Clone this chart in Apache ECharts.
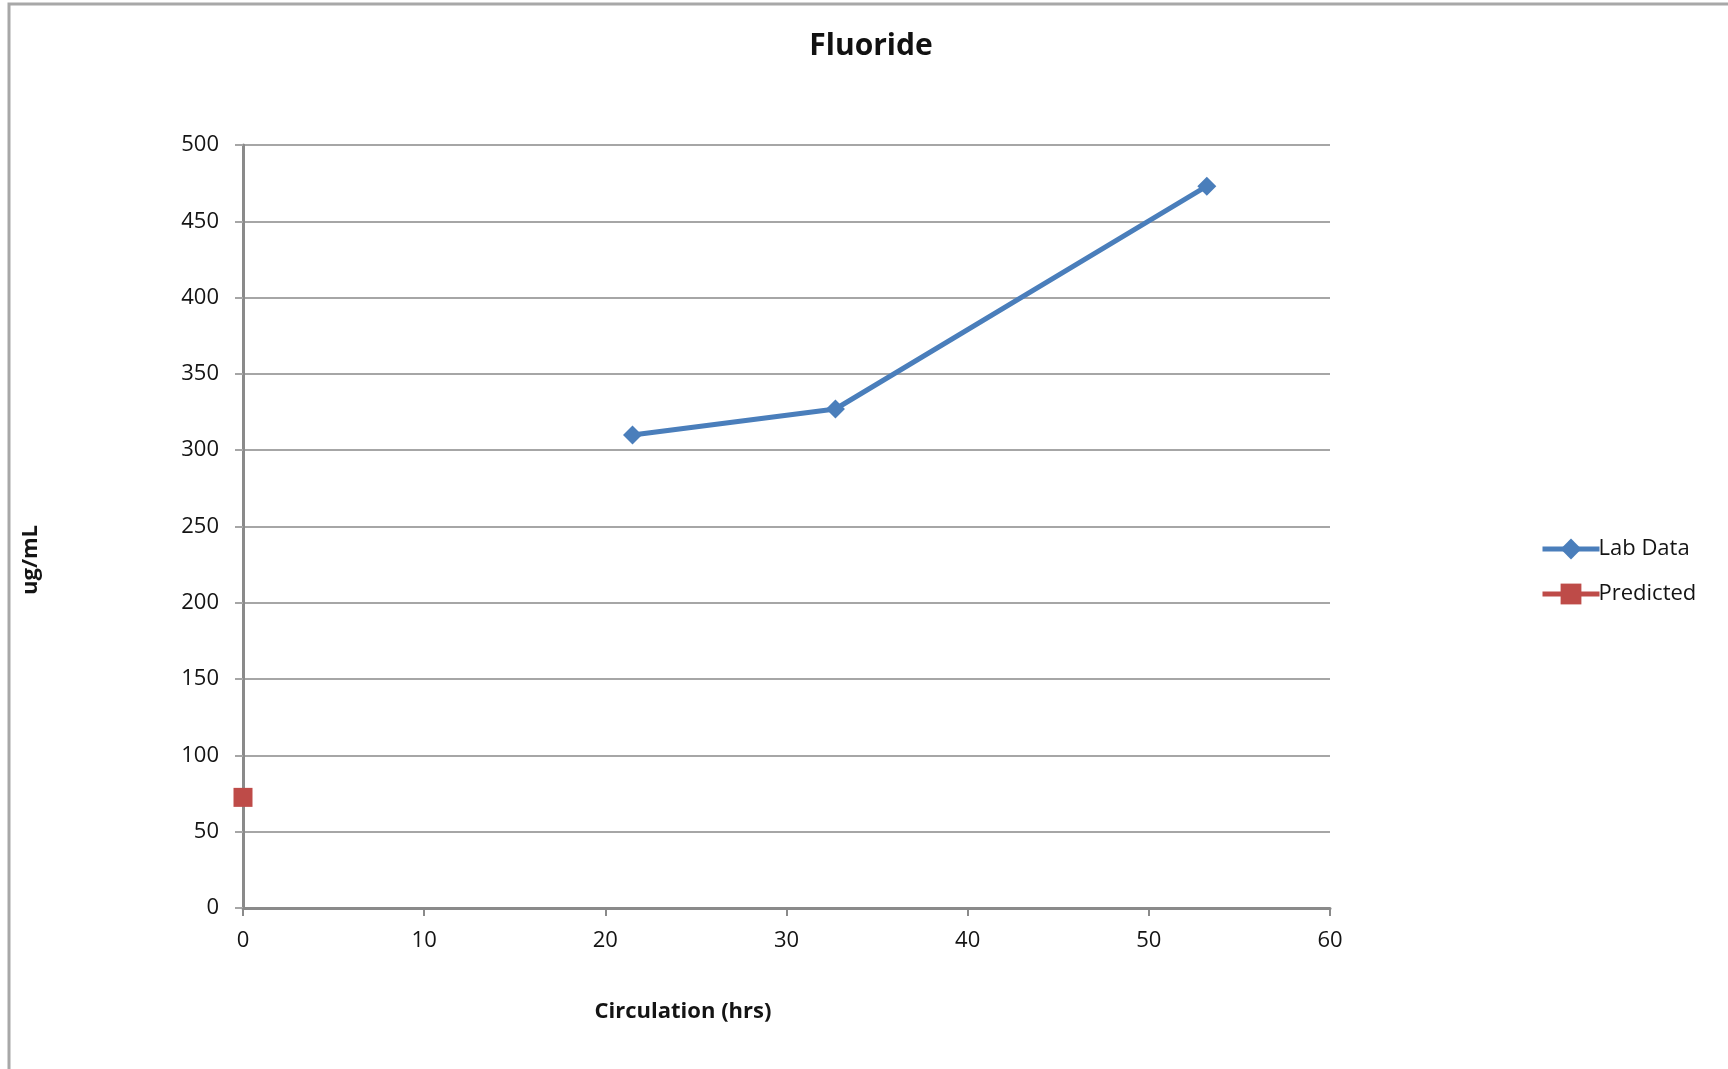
<!DOCTYPE html>
<html>
<head>
<meta charset="utf-8">
<script src="https://cdn.jsdelivr.net/npm/echarts@6/dist/echarts.min.js"></script>
<style>
  html, body { margin: 0; padding: 0; background: #fff; }
  #chart { width: 1728px; height: 1069px; }
</style>
</head>
<body>
<div id="chart"></div>
<script>
// Circulation time (hrs) and fluoride concentration (ug/mL)
const labHours = [21.5, 32.7, 53.2];
const labValues = [310, 327, 473];
const predictedHours = [0];
const predictedValues = [72.5];
const xTicks = [0, 10, 20, 30, 40, 50, 60];
const yTicks = [0, 50, 100, 150, 200, 250, 300, 350, 400, 450, 500];

const FONT = '"Open Sans", "DejaVu Sans", sans-serif';
const TEXT = '#141414';

const chart = echarts.init(document.getElementById('chart'), null, { renderer: 'canvas' });

chart.setOption({
  backgroundColor: '#ffffff',
  animation: false,
  title: {
    text: 'Fluoride',
    left: 866,
    top: 26,
    textAlign: 'center',
    textStyle: { fontFamily: FONT, fontWeight: 'bold', fontSize: 30, color: '#111' }
  },
  graphic: [
    {
      type: 'rect',
      shape: { x: 9, y: 4, width: 1800, height: 1200 },
      style: { fill: 'none', stroke: '#a8a8a8', lineWidth: 3 },
      silent: true
    },
    {
      type: 'text',
      x: 683, y: 1012,
      style: { text: 'Circulation (hrs)', font: 'bold 22px ' + FONT, fill: TEXT, align: 'center', verticalAlign: 'middle' }
    },
    {
      type: 'text',
      x: 31, y: 560,
      rotation: Math.PI / 2,
      style: { text: 'ug/mL', font: 'bold 22px ' + FONT, fill: TEXT, align: 'center', verticalAlign: 'middle' }
    }
  ],
  legend: {
    orient: 'vertical',
    left: 1535,
    top: 533,
    itemWidth: 57,
    itemHeight: 26,
    itemGap: 23,
    textStyle: { fontFamily: FONT, fontSize: 22, color: TEXT, padding: [0, 0, 0, -6] },
    data: [
      { name: 'Lab Data', lineStyle: { width: 5 } },
      { name: 'Predicted', lineStyle: { width: 5 } }
    ]
  },
  grid: { left: 243, top: 145, right: 398, bottom: 161, containLabel: false },
  xAxis: {
    type: 'value',
    min: xTicks[0],
    max: xTicks[xTicks.length - 1],
    interval: 10,
    axisLine: { show: true, onZero: false, lineStyle: { color: '#8a8a8a', width: 3 } },
    axisTick: { show: true, length: 8, lineStyle: { color: '#8a8a8a', width: 2 } },
    axisLabel: { margin: 22, fontFamily: FONT, fontSize: 22, color: TEXT },
    splitLine: { show: false }
  },
  yAxis: {
    type: 'value',
    min: yTicks[0],
    max: yTicks[yTicks.length - 1],
    interval: 50,
    axisLine: { show: true, lineStyle: { color: '#8a8a8a', width: 3 } },
    axisTick: { show: true, length: 8, lineStyle: { color: '#a6a6a6', width: 2 } },
    axisLabel: { margin: 24, fontFamily: FONT, fontSize: 22, color: TEXT },
    splitLine: { show: true, lineStyle: { color: '#a6a6a6', width: 2 } }
  },
  series: [
    {
      name: 'Lab Data',
      type: 'line',
      data: labHours.map((h, i) => [h, labValues[i]]),
      symbol: 'diamond',
      symbolSize: 19,
      itemStyle: { color: '#4a7ebb' },
      lineStyle: { color: '#4a7ebb', width: 5 }
    },
    {
      name: 'Predicted',
      type: 'line',
      data: predictedHours.map((h, i) => [h, predictedValues[i]]),
      symbol: 'rect',
      symbolSize: 19,
      itemStyle: { color: '#be4b48' },
      lineStyle: { color: '#be4b48', width: 5 },
      z: 5
    }
  ]
});
</script>
</body>
</html>
